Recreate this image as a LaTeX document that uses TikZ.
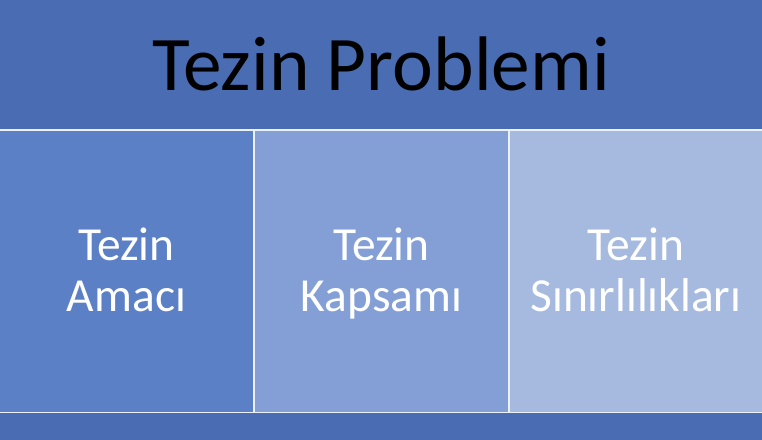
\documentclass[tikz,border=0pt]{standalone}
\usepackage{fontspec}
\setmainfont{Carlito}
\usetikzlibrary{positioning}
\definecolor{banddark}{RGB}{73,108,179}
\definecolor{cella}{RGB}{92,128,197}
\definecolor{cellb}{RGB}{131,159,213}
\definecolor{cellc}{RGB}{166,186,224}
\definecolor{gapline}{RGB}{236,240,248}
\tikzset{
    band/.style = {rectangle, inner sep=0pt, outer sep=0pt, fill=banddark, minimum width=15.24cm},
    cell/.style = {rectangle, inner sep=0pt, outer sep=0pt, minimum width=5.06cm, minimum height=5.62cm,
                   text height=1.92cm, text depth=0.3cm,
                   align=center, text=white, font=\fontsize{27}{29.5}\selectfont},
    titletext/.style = {font=\fontsize{44}{50}\selectfont, text=black}
}

\begin{document}
\begin{tikzpicture}[x=0.02cm,y=-0.02cm]
\useasboundingbox (0,0) rectangle (762,440);
\fill[gapline] (0,0) rectangle (762,440);
\node[band, minimum height=2.58cm, anchor=north west] at (0,0) (top) {};
\node[titletext] at (381,64) (title) {Tezin Problemi};
%
\node[cell, fill=cella, anchor=north west] at (0,131) (amac) {Tezin\\Amacı};
\node[cell, fill=cellb, anchor=north west] at (255,131) (kapsam) {Tezin\\Kapsamı};
\node[cell, fill=cellc, anchor=north west, minimum width=5.04cm] at (510,131) (sinir) {Tezin\\Sınırlılıkları};
%
\node[band, minimum height=0.54cm, anchor=north west] at (0,413) (bottom) {};

\end{tikzpicture}
\end{document}
